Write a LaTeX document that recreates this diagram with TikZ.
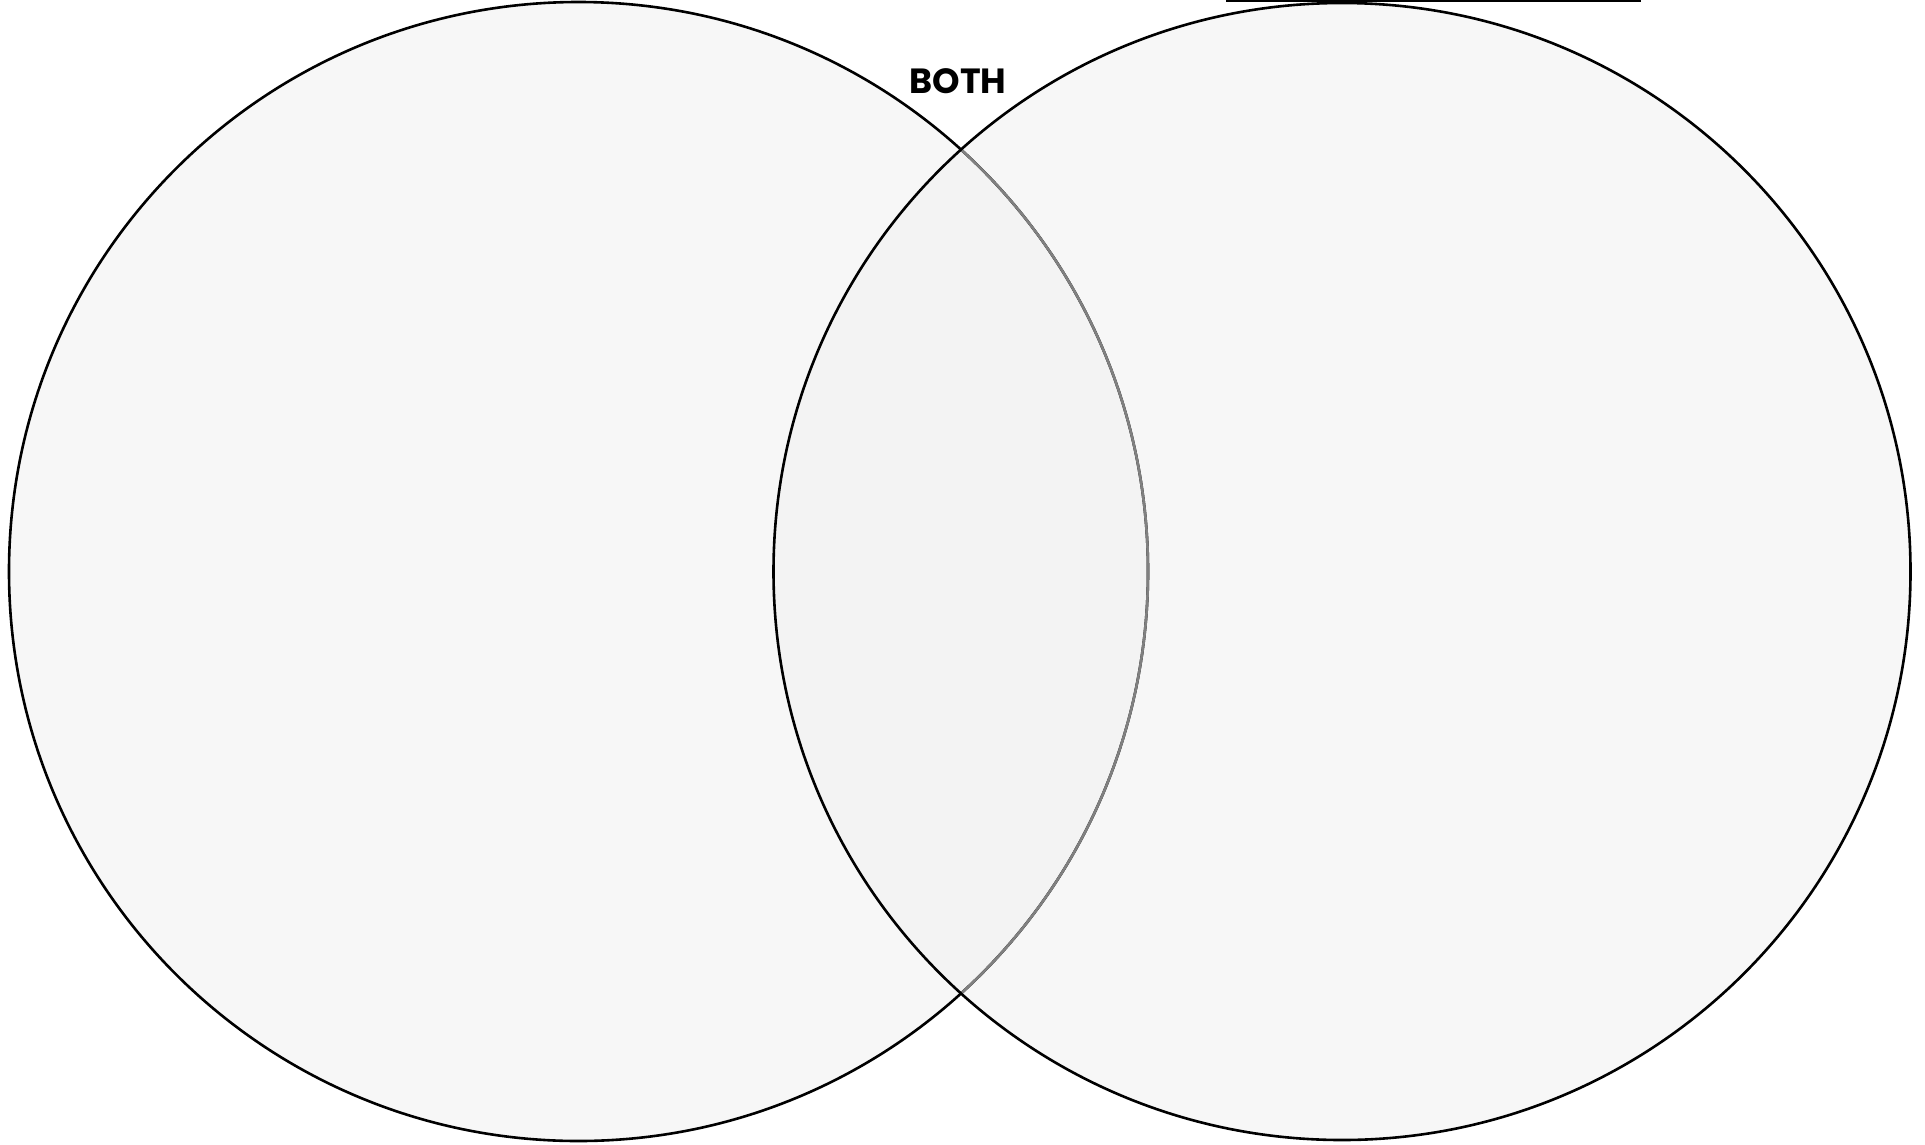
\documentclass[tikz,border=0pt]{standalone}
\usepackage{fontspec}
\newfontfamily\bothfont{Poppins}
\definecolor{circfill}{HTML}{F7F7F7}
\definecolor{overfill}{HTML}{F3F3F3}
\definecolor{innerline}{HTML}{808080}
\begin{document}
\begin{tikzpicture}[x=1pt,y=-1pt,
  ring/.style={line width=2.6pt,draw=black},
  label/.style={font=\bothfont\bfseries\fontsize{35}{40}\selectfont,inner sep=0pt,anchor=center}]
\useasboundingbox (0,0) rectangle (1925,1144);
\coordinate (cl) at (578.5,571.5);
\coordinate (cr) at (1342,571.5);
% fills
\fill[circfill] (cl) circle[radius=569.5];
\fill[circfill] (cr) circle[radius=568.5];
\begin{scope}
  \clip (cl) circle[radius=569.5];
  \fill[overfill] (cr) circle[radius=568.5];
\end{scope}
% left circle outline
\draw[ring] (cl) circle[radius=569.5];
\begin{scope}
  \clip (cr) circle[radius=568.5];
  \draw[line width=2.6pt,draw=innerline] (cl) circle[radius=569.5];
\end{scope}
% right circle outline
\draw[ring] (cr) circle[radius=568.5];
% top line
\coordinate (la) at (1226,0.8);
\coordinate (lb) at (1641,0.8);
\draw[line width=1.6pt] (la) -- (lb);
% label
\node[label] (both) at (958,81.5) {BOTH};
\end{tikzpicture}
\end{document}
